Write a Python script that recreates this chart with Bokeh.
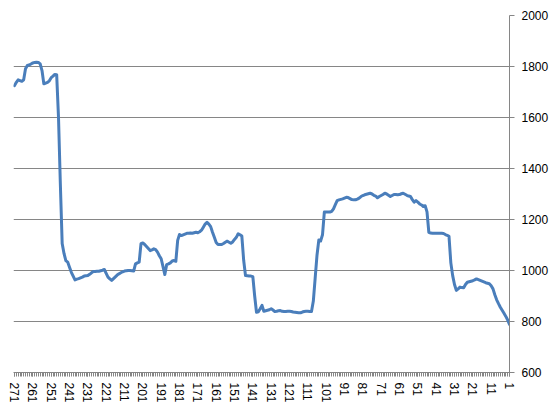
from bokeh.plotting import figure
from bokeh.models import Range1d, FixedTicker
from bokeh.embed import file_html
from bokeh.resources import INLINE

# Categories run from 271 (left) down to 1 (right)
categories = list(range(271, 0, -1))

# Values in the same left-to-right order as categories
values = [
    1725, 1738, 1748, 1745, 1742, 1748, 1791, 1804, 1806, 1810,
    1814, 1816, 1817, 1816, 1810, 1784, 1732, 1735, 1738, 1744,
    1756, 1762, 1769, 1768, 1600, 1340, 1106, 1067, 1039, 1033,
    1013, 993, 978, 963, 966, 968, 971, 974, 978, 979,
    980, 985, 991, 996, 996, 997, 997, 999, 1001, 1004,
    989, 974, 967, 961, 968, 975, 982, 987, 991, 995,
    998, 999, 1000, 1000, 999, 998, 1026, 1030, 1033, 1105,
    1108, 1102, 1094, 1086, 1078, 1081, 1085, 1082, 1072, 1058,
    1046, 1015, 984, 1023, 1026, 1030, 1037, 1039, 1036, 1118,
    1141, 1137, 1140, 1143, 1146, 1146, 1147, 1146, 1148, 1150,
    1148, 1152, 1158, 1170, 1182, 1189, 1182, 1172, 1150, 1130,
    1110, 1102, 1102, 1102, 1106, 1111, 1115, 1111, 1107, 1112,
    1122, 1130, 1144, 1140, 1135, 1040, 980, 979, 978, 978,
    976, 900, 836, 838, 850, 863, 840, 842, 844, 846,
    850, 845, 839, 840, 842, 843, 840, 839, 839, 840,
    840, 839, 837, 836, 835, 834, 834, 837, 839, 840,
    840, 839, 839, 880, 970, 1060, 1120, 1116, 1140, 1229,
    1229, 1229, 1229, 1232, 1242, 1258, 1274, 1277, 1279, 1281,
    1284, 1287, 1286, 1282, 1278, 1277, 1277, 1280, 1284, 1290,
    1294, 1297, 1299, 1301, 1303, 1300, 1295, 1292, 1285, 1290,
    1294, 1298, 1303, 1300, 1295, 1290, 1294, 1298, 1298, 1297,
    1298, 1301, 1303, 1299, 1295, 1292, 1290, 1278, 1268, 1274,
    1268, 1261, 1257, 1251, 1254, 1230, 1150, 1147, 1146, 1146,
    1146, 1146, 1146, 1146, 1145, 1141, 1138, 1134, 1030, 980,
    945, 922, 928, 935, 933, 932, 945, 954, 956, 958,
    960, 963, 967, 964, 961, 958, 955, 952, 950, 948,
    940, 928, 905, 885, 870, 856, 844, 832, 820, 806, 788,
]

x_ticks = [271, 261, 251, 241, 231, 221, 211, 201, 191, 181, 171, 161, 151,
           141, 131, 121, 111, 101, 91, 81, 71, 61, 51, 41, 31, 21, 11, 1]
y_ticks = [600, 800, 1000, 1200, 1400, 1600, 1800, 2000]

GRAY = "#868686"
FONT = "Liberation Sans"

p = figure(frame_width=496, frame_height=357,
           output_backend="svg", toolbar_location=None,
           x_range=Range1d(271.55, 1), y_range=Range1d(600, 2000),
           y_axis_location="right",
           min_border_left=13, min_border_top=15,
           min_border_right=45, min_border_bottom=31)

p.outline_line_color = None
p.background_fill_color = "white"
p.border_fill_color = "white"

p.line(categories, values, line_color="#4A7EBB", line_width=3,
       line_join="round", line_cap="round")

# x axis
xa = p.xaxis[0]
xa.ticker = FixedTicker(ticks=x_ticks, minor_ticks=categories)
xa.axis_line_color = GRAY
xa.major_tick_line_color = GRAY
xa.minor_tick_line_color = GRAY
xa.major_tick_out = 4
xa.major_tick_in = 0
xa.minor_tick_out = 4
xa.minor_tick_in = 0
xa.major_label_orientation = "vertical"
xa.major_label_standoff = 6
xa.major_label_text_font = FONT
xa.major_label_text_font_size = "12px"
xa.major_label_text_color = "#000000"

# y axis (right)
ya = p.yaxis[0]
ya.ticker = FixedTicker(ticks=y_ticks)
ya.axis_line_color = GRAY
ya.major_tick_line_color = GRAY
ya.minor_tick_line_color = None
ya.major_tick_out = 5
ya.major_tick_in = 0
ya.major_label_standoff = 7
ya.major_label_text_font = FONT
ya.major_label_text_font_size = "12px"
ya.major_label_text_color = "#000000"

p.xgrid.visible = False
p.ygrid.grid_line_color = GRAY
p.ygrid.grid_line_width = 1

open("out.html", "w").write(file_html(p, INLINE))
